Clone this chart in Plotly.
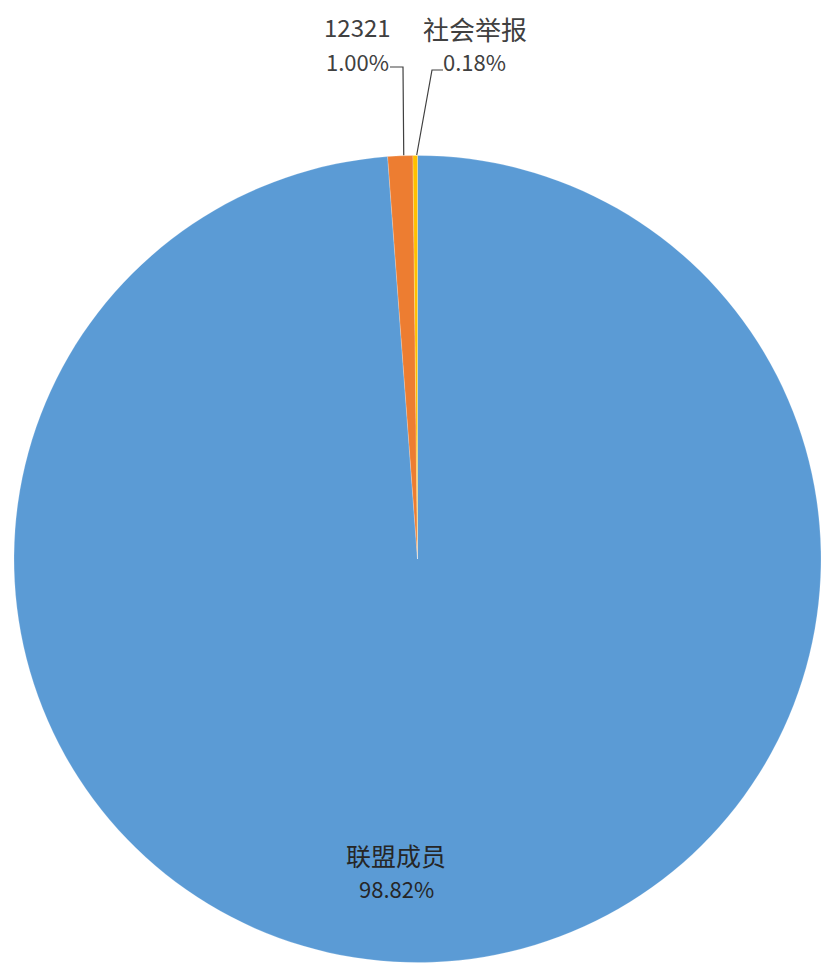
import math
import plotly.graph_objects as go

labels = ["联盟成员", "12321", "社会举报"]
values = [98.82, 1.00, 0.18]
pct_text = ["98.82%", "1.00%", "0.18%"]
colors = ["#5B9BD5", "#ED7D31", "#FFC000"]

W, H = 821, 969
CX, CY, R = 418, 559, 404  # pie centre / radius in pixels (layout only)


def px(x):
    return x / W


def py(y):
    return 1 - y / H


fig = go.Figure(go.Pie(
    labels=labels,
    values=values,
    sort=False,
    direction="clockwise",
    rotation=0,
    textinfo="none",
    hoverinfo="label+percent",
    marker=dict(colors=colors, line=dict(color="rgba(255,255,255,0.4)", width=0.5)),
    domain=dict(x=[max(0, px(CX - R)), min(1, px(CX + R))],
                y=[max(0, py(CY + R)), min(1, py(CY - R))]),
    showlegend=False,
))

FAM = "Noto Sans CJK SC, Microsoft YaHei, sans-serif"
TXT = "#404040"

# label positions (pixels): (x centre, name line y, value line y, name size, value size)
label_pos = {
    0: (396, 855, 888, 25, 22),
    1: (357, 27, 61, 24, 22),
    2: (475, 28, 61, 26, 22),
}

annotations = []
for i, (lx, ny, vy, ns, vs) in label_pos.items():
    annotations.append(dict(
        x=px(lx), y=py(ny), xref="paper", yref="paper",
        text=labels[i], showarrow=False,
        font=dict(family=FAM, size=ns, color="#262626" if i == 0 else TXT),
        xanchor="center", yanchor="middle",
    ))
    annotations.append(dict(
        x=px(lx), y=py(vy), xref="paper", yref="paper",
        text=pct_text[i], showarrow=False,
        font=dict(family=FAM, size=vs, color="#262626" if i == 0 else TXT),
        xanchor="center", yanchor="middle",
    ))

# leader lines from slice edge (computed from data) to label
total = sum(values)
cum = 0
edge = []
for v in values:
    mid = (cum + v / 2) / total * 2 * math.pi
    edge.append((CX + R * math.sin(mid), CY - R * math.cos(mid)))
    cum += v

shapes = []
line_style = dict(color="#404040", width=1.2)
# 12321
ex, ey = edge[1]
shapes.append(dict(type="path", xref="paper", yref="paper",
                   path=f"M {px(390)},{py(67)} L {px(403)},{py(67)} L {px(ex + 3)},{py(ey)}",
                   line=line_style))
# 社会举报
ex, ey = edge[2]
shapes.append(dict(type="path", xref="paper", yref="paper",
                   path=f"M {px(443)},{py(70)} L {px(432)},{py(70)} L {px(ex + 1)},{py(ey)}",
                   line=line_style))

fig.update_layout(
    width=W, height=H,
    margin=dict(l=0, r=0, t=0, b=0),
    paper_bgcolor="white",
    plot_bgcolor="white",
    annotations=annotations,
    shapes=shapes,
)

fig.write_html("out.html", config={"displayModeBar": False},
               post_script="document.body.style.margin='0';")
